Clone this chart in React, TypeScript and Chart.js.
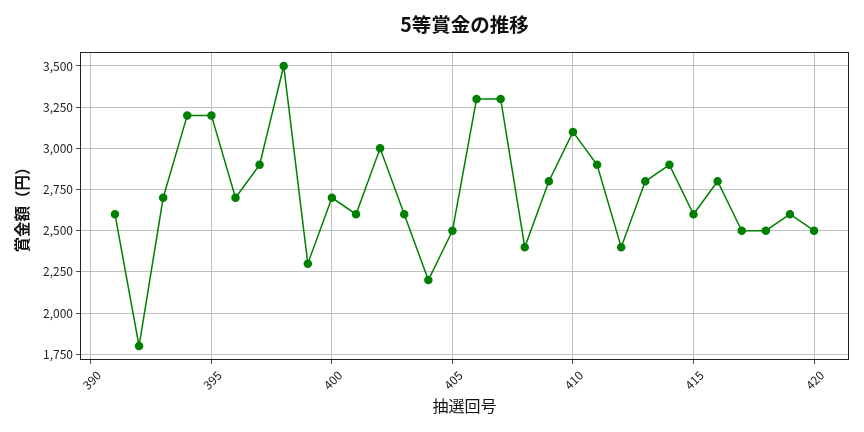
import { useEffect, useRef } from 'react';
import { Chart, ChartConfiguration, registerables } from 'chart.js';

Chart.register(...registerables);

const FONT = "'Noto Sans CJK JP', 'Noto Sans', sans-serif";

// draw numbers (抽選回号) and 5等 prize amounts
const drawNumbers = [
  391, 392, 393, 394, 395, 396, 397, 398, 399, 400,
  401, 402, 403, 404, 405, 406, 407, 408, 409, 410,
  411, 412, 413, 414, 415, 416, 417, 418, 419, 420,
];
const prizeAmounts = [
  2600, 1800, 2700, 3200, 3200, 2700, 2900, 3500, 2300, 2700,
  2600, 3000, 2600, 2200, 2500, 3300, 3300, 2400, 2800, 3100,
  2900, 2400, 2800, 2900, 2600, 2800, 2500, 2500, 2600, 2500,
];
const xTicks = [390, 395, 400, 405, 410, 415, 420];
const yTicks = [1750, 2000, 2250, 2500, 2750, 3000, 3250, 3500];

const chartTitle = '5等賞金の推移';
const xTitle = '抽選回号';
const yTitle = '賞金額（円）';

export default function App() {
  const canvasRef = useRef<HTMLCanvasElement>(null);
  const chartRef = useRef<Chart | null>(null);

  useEffect(() => {
    if (!canvasRef.current) return;
    const ctx = canvasRef.current.getContext('2d');
    if (!ctx) return;

    // matplotlib-style margins (5% of the data range)
    const xSpan = Math.max(...drawNumbers) - Math.min(...drawNumbers);
    const ySpan = Math.max(...prizeAmounts) - Math.min(...prizeAmounts);

    const frameAndTitle = {
      id: 'frameAndTitle',
      afterDraw(chart: Chart) {
        const { ctx: c, chartArea: a } = chart;
        c.save();
        c.strokeStyle = '#222';
        c.lineWidth = 1;
        c.strokeRect(Math.round(a.left) + 0.5, Math.round(a.top) + 0.5,
          Math.round(a.right - a.left) - 1, Math.round(a.bottom - a.top) - 1);
        c.fillStyle = '#111';
        c.font = `bold 19.5px ${FONT}`;
        c.textAlign = 'center';
        c.textBaseline = 'middle';
        c.fillText(chartTitle, (a.left + a.right) / 2, 25);
        c.restore();
      },
    };

    const config: ChartConfiguration<'line'> = {
      type: 'line',
      data: {
        datasets: [{
          data: drawNumbers.map((n, i) => ({ x: n, y: prizeAmounts[i] })),
          borderColor: '#008000',
          backgroundColor: '#008000',
          borderWidth: 1.5,
          pointRadius: 3.5,
          pointHoverRadius: 3.5,
          tension: 0,
        }],
      },
      options: {
        animation: false,
        responsive: false,
        maintainAspectRatio: false,
        layout: { padding: { top: 52, right: 15, left: 0, bottom: 0 }, autoPadding: false },
        plugins: {
          legend: { display: false },
          tooltip: { enabled: false },
          title: { display: false },
        },
        scales: {
          x: {
            type: 'linear',
            min: Math.min(...drawNumbers) - xSpan * 0.05,
            max: Math.max(...drawNumbers) + xSpan * 0.05,
            afterBuildTicks: (scale) => { scale.ticks = xTicks.map((v) => ({ value: v })); },
            afterFit: (scale) => { scale.height = 72; },
            grid: { color: '#b0b0b0', lineWidth: 0.8, tickColor: '#222', tickLength: 4 },
            border: { display: false },
            ticks: {
              minRotation: 45,
              maxRotation: 45,
              padding: 4,
              labelOffset: 8,
              color: '#222',
              font: { family: FONT, size: 12 },
              callback: (v) => String(v),
            },
            title: {
              display: true,
              text: xTitle,
              color: '#111',
              font: { family: FONT, size: 16 },
              padding: { top: 0, bottom: 16 },
            },
          },
          y: {
            type: 'linear',
            min: Math.min(...prizeAmounts) - ySpan * 0.05,
            max: Math.max(...prizeAmounts) + ySpan * 0.05,
            afterBuildTicks: (scale) => { scale.ticks = yTicks.map((v) => ({ value: v })); },
            afterFit: (scale) => { scale.width = 80; },
            grid: { color: '#b0b0b0', lineWidth: 0.8, tickColor: '#222', tickLength: 4 },
            border: { display: false },
            ticks: {
              padding: 3,
              color: '#222',
              font: { family: FONT, size: 12 },
              callback: (v) => Number(v).toLocaleString('en-US'),
            },
            title: {
              display: true,
              text: yTitle,
              color: '#111',
              font: { family: FONT, size: 15.5, weight: 'bold' },
              padding: { top: 13, bottom: 0 },
            },
          },
        },
      },
      plugins: [frameAndTitle],
    };

    chartRef.current = new Chart(ctx, config);

    return () => {
      if (chartRef.current) {
        chartRef.current.destroy();
        chartRef.current = null;
      }
    };
  }, []);

  return (
    <div style={{ position: 'absolute', left: 0, top: 0, width: 864, height: 432, background: '#fff' }}>
      <canvas ref={canvasRef} width={864} height={432} style={{ width: 864, height: 432 }} />
    </div>
  );
}
